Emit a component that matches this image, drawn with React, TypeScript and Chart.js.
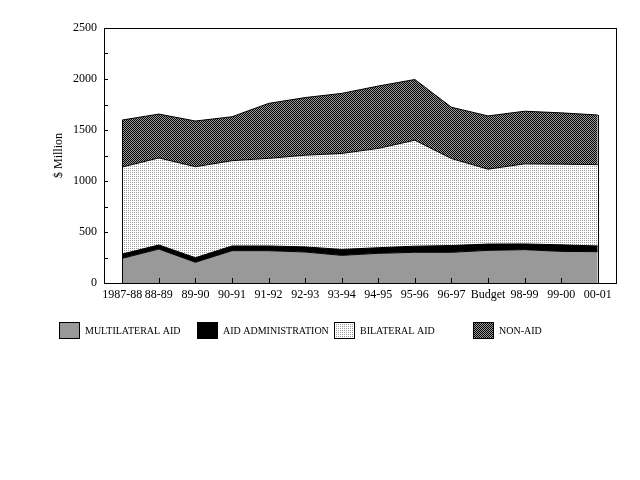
import React, { useEffect, useRef } from 'react';
import { Chart, registerables } from 'chart.js';

Chart.register(...registerables);

const categories = ['1987-88', '88-89', '89-90', '90-91', '91-92', '92-93', '93-94', '94-95', '95-96', '96-97', 'Budget', '98-99', '99-00', '00-01'];
const multilateralAid = [242, 333, 203, 317, 317, 304, 271, 291, 301, 301, 320, 327, 310, 307];
const aidAdministration = [42, 40, 45, 46, 46, 50, 58, 55, 60, 66, 62, 56, 64, 56];
const bilateralAid = [853, 853, 892, 836, 859, 899, 941, 974, 1039, 853, 734, 785, 791, 797];
const nonAid = [461, 430, 448, 431, 539, 565, 589, 611, 595, 503, 522, 516, 503, 487];
const seriesLabels = ['MULTILATERAL AID', 'AID ADMINISTRATION', 'BILATERAL AID', 'NON-AID'];
const yTitle = '$ Million';

const FONT = '"Liberation Serif", "Times New Roman", serif';
const GRAY = '#999999';

function makePattern(kind: string): CanvasPattern | string {
  const c = document.createElement('canvas');
  c.width = 2;
  c.height = 2;
  const g = c.getContext('2d');
  if (!g) return GRAY;
  if (kind === 'dots') {
    g.fillStyle = '#ffffff';
    g.fillRect(0, 0, 2, 2);
    g.fillStyle = GRAY;
    g.fillRect(0, 0, 1, 1);
  } else {
    g.fillStyle = GRAY;
    g.fillRect(0, 0, 2, 2);
    g.fillStyle = '#000000';
    g.fillRect(0, 0, 1, 1);
    g.fillRect(1, 1, 1, 1);
  }
  const p = g.createPattern(c, 'repeat');
  return p || GRAY;
}

export default function App() {
  const ref = useRef<HTMLCanvasElement | null>(null);

  useEffect(() => {
    if (!ref.current) return;
    const dots = makePattern('dots');
    const checker = makePattern('checker');
    const fills: any[] = [GRAY, '#000000', dots, checker];

    const decor = {
      id: 'decor',
      afterDatasetsDraw(chart: any) {
        const ctx = chart.ctx;
        const a = chart.chartArea;
        const ys = chart.scales.y;
        const xs = chart.scales.x;
        ctx.save();
        ctx.strokeStyle = '#000';
        ctx.lineWidth = 1;
        // vertical edges of the stacked area
        const n = categories.length;
        [0, n - 1].forEach((i) => {
          const total = multilateralAid[i] + aidAdministration[i] + bilateralAid[i] + nonAid[i];
          const x = Math.round(xs.getPixelForValue(i)) + 0.5;
          ctx.beginPath();
          ctx.moveTo(x, ys.getPixelForValue(0));
          ctx.lineTo(x, ys.getPixelForValue(total));
          ctx.stroke();
        });
        // inward y tick marks
        for (let v = 0; v <= 2500; v += 250) {
          const y = Math.round(ys.getPixelForValue(v)) + 0.5;
          ctx.beginPath();
          ctx.moveTo(a.left, y);
          ctx.lineTo(a.left + 4, y);
          ctx.stroke();
        }
        // inward x tick marks
        for (let i = 0; i < n; i++) {
          const x = Math.round(xs.getPixelForValue(i)) + 0.5;
          ctx.beginPath();
          ctx.moveTo(x, a.bottom);
          ctx.lineTo(x, a.bottom - 5);
          ctx.stroke();
        }
        // frame
        ctx.strokeRect(Math.round(a.left) + 0.5, Math.round(a.top) + 0.5, Math.round(a.right - a.left), Math.round(a.bottom - a.top));
        ctx.restore();
      },
      afterDraw(chart: any) {
        const ctx = chart.ctx;
        const cols = [59, 197, 334, 473];
        const by = 322;
        ctx.save();
        ctx.font = '10px ' + FONT;
        ctx.textBaseline = 'middle';
        ctx.textAlign = 'left';
        seriesLabels.forEach((lab, i) => {
          const x = cols[i];
          ctx.fillStyle = fills[i];
          ctx.fillRect(x, by, 21, 17);
          ctx.strokeStyle = '#000';
          ctx.lineWidth = 1;
          ctx.strokeRect(x + 0.5, by + 0.5, 20, 16);
          ctx.fillStyle = '#000';
          ctx.fillText(lab, x + 26, by + 9);
        });
        ctx.restore();
      },
    };

    const series = [multilateralAid, aidAdministration, bilateralAid, nonAid];
    const chart = new Chart(ref.current, {
      type: 'line',
      data: {
        labels: categories,
        datasets: series.map((d, i) => ({
          label: seriesLabels[i],
          data: d,
          backgroundColor: fills[i],
          borderColor: '#000000',
          borderWidth: 1,
          fill: i === 0 ? 'origin' : '-1',
          pointRadius: 0,
          tension: 0,
        })),
      },
      options: {
        responsive: false,
        animation: false,
        devicePixelRatio: 1,
        layout: { padding: { left: 0, top: 28, right: 24, bottom: 167 } },
        plugins: {
          legend: { display: false },
          tooltip: { enabled: false },
        },
        scales: {
          x: {
            offset: true,
            grid: { display: false, drawTicks: false },
            border: { display: false },
            ticks: {
              color: '#000',
              font: { family: FONT, size: 12 },
              padding: 5,
              autoSkip: false,
              maxRotation: 0,
            },
            afterFit: (s: any) => {
              s.height = 30;
            },
          },
          y: {
            stacked: true,
            min: 0,
            max: 2500,
            grid: { display: false, drawTicks: false },
            border: { display: false },
            ticks: {
              stepSize: 250,
              color: '#000',
              font: { family: FONT, size: 12 },
              padding: 7,
              callback: (v: any) => (Number(v) % 500 === 0 ? String(v) : ''),
            },
            title: {
              display: true,
              text: yTitle,
              color: '#000',
              font: { family: FONT, size: 12 },
              padding: { top: 52, bottom: 0 },
            },
            afterFit: (s: any) => {
              s.width = 104;
            },
          },
        },
      },
      plugins: [decor],
    } as any);
    return () => chart.destroy();
  }, []);

  return (
    <div style={{ position: 'fixed', left: 0, top: 0, width: 640, height: 480, background: '#ffffff' }}>
      <canvas ref={ref} width={640} height={480} style={{ display: 'block', width: 640, height: 480 }} />
    </div>
  );
}
